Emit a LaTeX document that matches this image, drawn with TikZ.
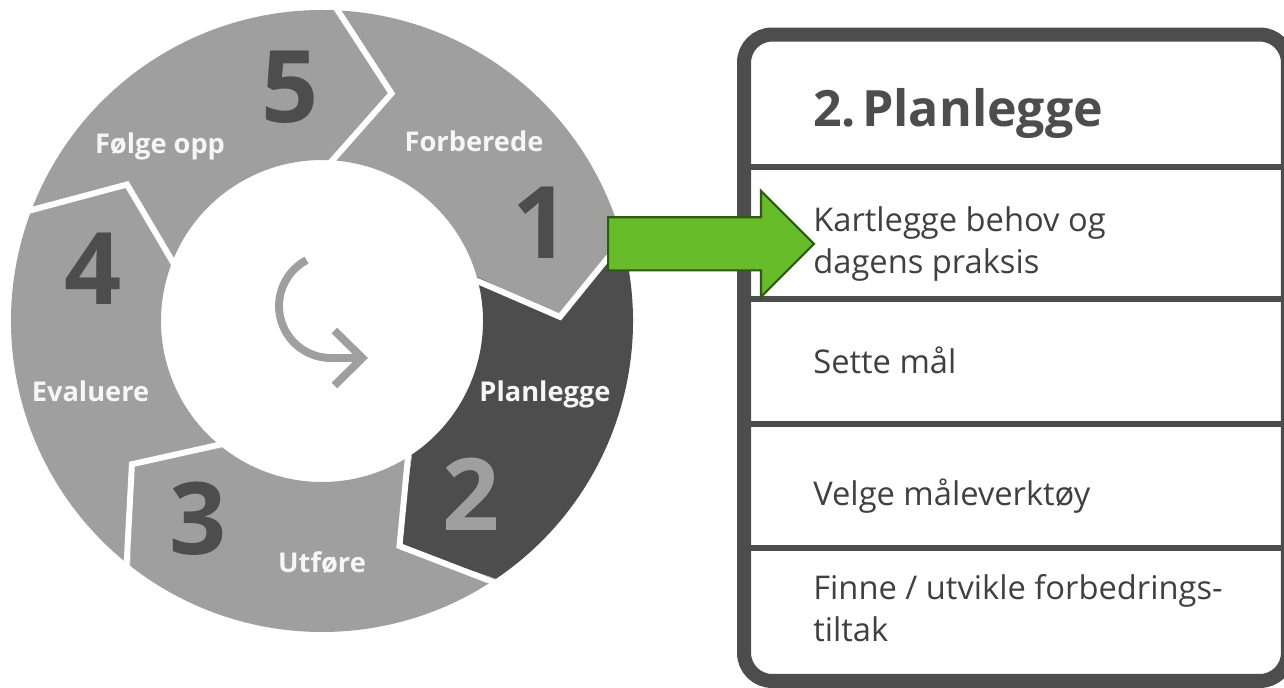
\documentclass[tikz,border=0pt]{standalone}
\usepackage{fontspec}
\setmainfont{Open Sans}
\usetikzlibrary{shapes.arrows, arrows.meta, positioning, calc}
\definecolor{seglight}{HTML}{A09FA0}
\definecolor{segdark}{HTML}{4D4D4D}
\definecolor{ringtext}{HTML}{F6F6F6}
\definecolor{panelline}{HTML}{4D4D4D}
\definecolor{paneltext}{HTML}{404040}
\definecolor{pointgreen}{HTML}{66BC29}
\definecolor{pointedge}{HTML}{2E5C0E}

\begin{document}
\begin{tikzpicture}[x=0.02cm, y=0.02cm,
        phase/.style={font=\fontsize{15.5}{18}\selectfont\bfseries, text=ringtext, inner sep=0pt, anchor=base},
        digit/.style={font=\fontsize{57}{60}\selectfont\bfseries, text=segdark, inner sep=0pt, anchor=base},
        gap/.style={white, line width=3.4pt, line join=miter},
        curl/.style={draw=seglight, line width=4.5pt, -{Straight Barb[length=0.56cm, width=1.1cm]}},
        item/.style={font=\fontsize{18.6}{23.6}\selectfont, text=paneltext, align=left, inner sep=0pt, anchor=base west},
        sep/.style={panelline, line width=3.6pt}
    ]
    \useasboundingbox (0,0) rectangle (1284,687);

    % ring of the five phases
    \begin{scope}[shift={(322,366)}]
        \fill[seglight] (88:311) arc[start angle=88, end angle=16, radius=311] -- (1:238) -- (16:161) arc[start angle=16, end angle=88, radius=161] -- (73:238) -- cycle;
        \fill[segdark] (16:311) arc[start angle=16, end angle=-56, radius=311] -- (-71:238) -- (-56:161) arc[start angle=-56, end angle=16, radius=161] -- (1:238) -- cycle;
        \fill[seglight] (-56:311) arc[start angle=-56, end angle=-128, radius=311] -- (-143:238) -- (-128:161) arc[start angle=-128, end angle=-56, radius=161] -- (-71:238) -- cycle;
        \fill[seglight] (-128:311) arc[start angle=-128, end angle=-200, radius=311] -- (-215:238) -- (-200:161) arc[start angle=-200, end angle=-128, radius=161] -- (-143:238) -- cycle;
        \fill[seglight] (-200:311) arc[start angle=-200, end angle=-272, radius=311] -- (-287:238) -- (-272:161) arc[start angle=-272, end angle=-200, radius=161] -- (-215:238) -- cycle;

        \draw[gap] (88:318) -- (73:238) -- (88:155);
        \draw[gap] (16:318) -- (1:238) -- (16:155);
        \draw[gap] (-56:318) -- (-71:238) -- (-56:155);
        \draw[gap] (-128:318) -- (-143:238) -- (-128:155);
        \draw[gap] (-200:318) -- (-215:238) -- (-200:155);
    \end{scope}

    \node[digit] (one) at (541,428.5) {1};
    \node[digit, text=seglight] (two) at (471,156.8) {2};
    \node[digit] (three) at (198,132.7) {3};
    \node[digit] (four) at (92.6,382.4) {4};
    \node[digit] (five) at (290,564.3) {5};

    \node[phase] (prepare) at (474,535.3) {Forberede};
    \node[phase] (plan) at (545,286) {Planlegge};
    \node[phase] (execute) at (322,115) {Utføre};
    \node[phase] (evaluate) at (90.5,286) {Evaluere};
    \node[phase] (follow) at (160,533) {Følge opp};

    \draw[curl] (306.6,426.9) arc[start angle=118, end angle=270, radius=52] -- (368,329);

    % detail panel for phase 2
    \node[draw=panelline, line width=8pt, rounded corners=0.56cm, minimum width=10.88cm,
          minimum height=12.93cm, inner sep=0pt] (panel) at (1016,329.25) {};
    \draw[sep] (744,520.2) -- (1288,520.2);
    \draw[sep] (744,388.3) -- (1288,388.3);
    \draw[sep] (744,262.7) -- (1288,262.7);
    \draw[sep] (744,139.3) -- (1288,139.3);

    \node[item, font=\fontsize{28.5}{32}\selectfont\bfseries, text=panelline] (title) at (813,560.6) {2.\kern-4pt\ Planlegge};
    \node[item] (needs) at (813,413.8) {Kartlegge behov og\\dagens praksis};
    \node[item] (goals) at (813,314) {Sette mål};
    \node[item] (tools) at (813,182) {Velge måleverktøy};
    \node[item] (measures) at (813,45.7) {Finne / utvikle forbedrings-\\tiltak};

    \node[single arrow, fill=pointgreen, draw=pointedge, line width=1.2pt, inner xsep=0pt, inner ysep=0.51cm,
          minimum height=4.12cm, single arrow head extend=0.53cm, anchor=tail] (pointer) at (607,443.2) {};
\end{tikzpicture}
\end{document}
